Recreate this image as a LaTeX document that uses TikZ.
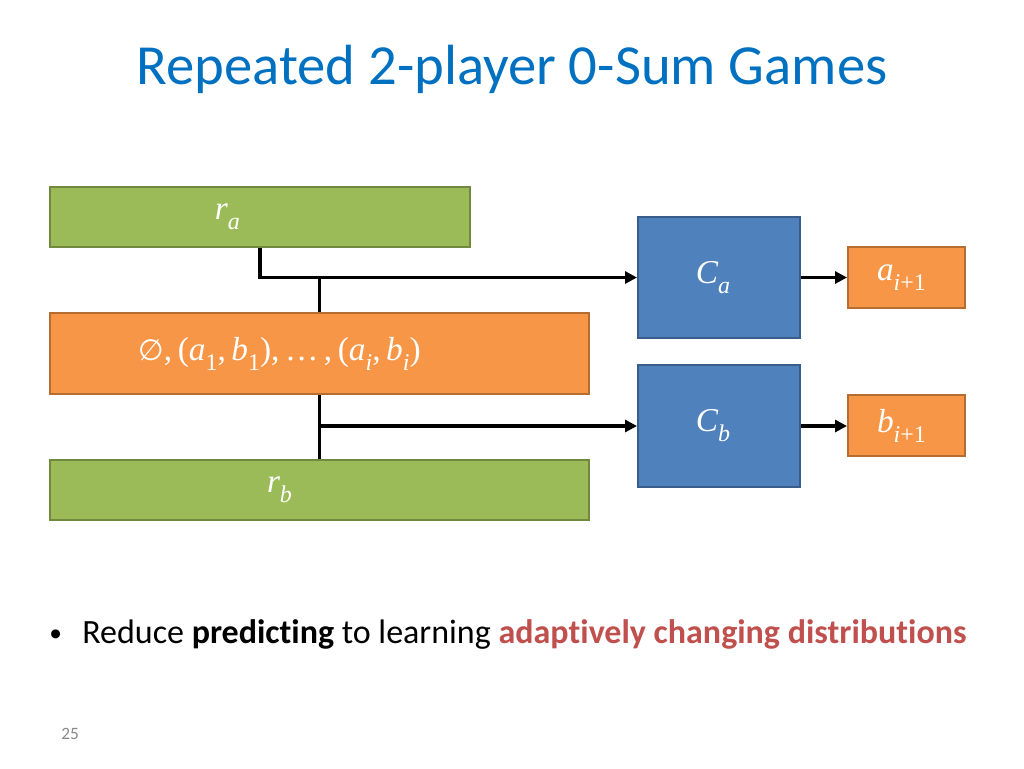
\documentclass[tikz,border=0pt]{standalone}
\usepackage[no-math]{fontspec}
\setmainfont[Ligatures=NoCommon]{Carlito}
\newfontfamily\mathf{Liberation Serif}
\newfontfamily\symf{DejaVu Sans}
\usetikzlibrary{arrows.meta}
\definecolor{titleblue}{RGB}{0,112,192}
\definecolor{gfill}{RGB}{155,187,89}
\definecolor{gline}{RGB}{113,137,63}
\definecolor{ofill}{RGB}{247,150,70}
\definecolor{oline}{RGB}{182,109,49}
\definecolor{bfill}{RGB}{79,129,189}
\definecolor{bline}{RGB}{56,93,138}
\definecolor{hred}{RGB}{192,80,77}
\definecolor{pgray}{RGB}{137,137,137}
\newcommand{\mv}[1]{{\itshape #1}}
\newcommand{\sbs}[1]{\raisebox{-0.3em}{\fontsize{18}{20}\selectfont #1}}
\newcommand{\lbl}[2]{\hspace*{#1}\raisebox{-5pt}{#2}}
\tikzset{
  box/.style={draw, line width=1.5pt, text=white, inner sep=0pt, font=\mathf\fontsize{25}{28}\selectfont},
  greenbox/.style={box, fill=gfill, draw=gline},
  orangebox/.style={box, fill=ofill, draw=oline},
  bluebox/.style={box, fill=bfill, draw=bline},
  wire/.style={line width=2.3pt, black},
  conn/.style={wire, -{Triangle[length=9pt,width=9pt]}},
}
\begin{document}
\begin{tikzpicture}[x=0.75pt,y=-0.75pt]
\useasboundingbox (0,0) rectangle (1024,768);
\node[text=titleblue, font=\fontsize{42.5}{50}\selectfont, anchor=base] (title) at (512,84) {Repeated 2-player 0-Sum Games};

\node[greenbox, minimum width=315pt, minimum height=45pt] (ra) at (260,217) {\lbl{-49pt}{\mv{r}\sbs{\mv{a}}}};
\node[orangebox, minimum width=404.25pt, minimum height=60.75pt] (hist) at (319.5,353.5) {\lbl{-60pt}{{\symf\fontsize{22}{24}\selectfont ∅},\,(\mv{a}\sbs{1},\,\mv{b}\sbs{1}),\,…\,,\,(\mv{a}\sbs{\mv{i}},\,\mv{b}\sbs{\mv{i}})}};
\node[greenbox, minimum width=404.25pt, minimum height=45pt] (rb) at (319.5,490) {\lbl{-60pt}{\mv{r}\sbs{\mv{b}}}};
\node[bluebox, minimum width=121.5pt, minimum height=90.75pt] (Ca) at (719,277.5) {\lbl{-9pt}{\mv{C}\sbs{\mv{a}}}};
\node[bluebox, minimum width=121.5pt, minimum height=91.5pt] (Cb) at (719,426) {\lbl{-9pt}{\mv{C}\sbs{\mv{b}}}};
\node[orangebox, minimum width=87.75pt, minimum height=45.75pt] (a) at (906.5,277.5) {\lbl{-7.5pt}{\mv{a}\sbs{\mv{i}+1}}};
\node[orangebox, minimum width=87.75pt, minimum height=45.75pt] (b) at (906.5,425.5) {\lbl{-7.5pt}{\mv{b}\sbs{\mv{i}+1}}};

\draw[conn] (ra.south) |- (Ca.west);
\draw[wire] (hist.north) -- (hist.north |- Ca.west);
\draw[wire] (hist.south) -- (rb.north);
\coordinate (jb) at (hist.south |- Cb.west);
\draw[conn] (jb) -- (Cb.west);
\draw[conn] (Ca.east) -- (Ca.east -| a.west);
\draw[conn] (Cb.east) -- (Cb.east -| b.west);

\node[anchor=base west, font=\fontsize{19}{22}\selectfont, inner sep=0pt] (bul) at (49,641) {•};
\node[anchor=base west, font=\fontsize{25.5}{30}\selectfont, inner sep=0pt] (txt) at (82,643) {Reduce \textbf{predicting} to learning \textcolor{hred}{\textbf{adaptively changing distributions}}};
\node[anchor=base west, text=pgray, font=\fontsize{13}{15}\selectfont, inner sep=0pt] (pg) at (61,739) {25};
\end{tikzpicture}
\end{document}
